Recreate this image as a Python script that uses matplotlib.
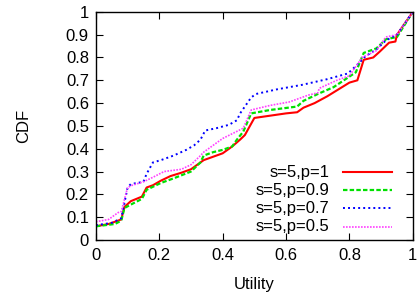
import numpy as np
import matplotlib
matplotlib.use('Agg')
import matplotlib.pyplot as plt
from matplotlib.ticker import FormatStrFormatter

plt.rcParams['font.family'] = ['Liberation Sans', 'DejaVu Sans']

# Дані (Utility, CDF)
u_p1 = [0, 0.04, 0.08, 0.09, 0.11, 0.145, 0.16, 0.18, 0.205, 0.235, 0.27, 0.30, 0.325, 0.34,
        0.40, 0.43, 0.455, 0.47, 0.50, 0.55, 0.60, 0.635, 0.655, 0.69, 0.73, 0.80, 0.825,
        0.845, 0.875, 0.895, 0.925, 0.945, 0.95, 1.0]
c_p1 = [0.06, 0.07, 0.09, 0.145, 0.17, 0.19, 0.23, 0.24, 0.26, 0.28, 0.295, 0.31, 0.335, 0.35,
        0.38, 0.41, 0.44, 0.46, 0.535, 0.545, 0.555, 0.56, 0.58, 0.60, 0.63, 0.69, 0.70,
        0.79, 0.80, 0.825, 0.865, 0.87, 0.90, 1.0]

u_p09 = [0, 0.06, 0.08, 0.09, 0.11, 0.145, 0.16, 0.205, 0.245, 0.30, 0.33, 0.34, 0.37, 0.40,
         0.43, 0.445, 0.465, 0.49, 0.55, 0.635, 0.655, 0.70, 0.75, 0.82, 0.845, 0.885, 0.915,
         0.95, 1.0]
c_p09 = [0.06, 0.07, 0.085, 0.14, 0.155, 0.18, 0.22, 0.25, 0.27, 0.30, 0.34, 0.37, 0.385, 0.395,
         0.41, 0.44, 0.475, 0.555, 0.57, 0.585, 0.61, 0.64, 0.67, 0.735, 0.82, 0.84, 0.88,
         0.89, 1.0]

u_p07 = [0, 0.05, 0.08, 0.10, 0.11, 0.15, 0.16, 0.18, 0.205, 0.245, 0.285, 0.31, 0.33, 0.345,
         0.38, 0.42, 0.445, 0.455, 0.49, 0.505, 0.57, 0.65, 0.73, 0.795, 0.83, 0.85, 0.885,
         0.915, 0.95, 1.0]
c_p07 = [0.065, 0.075, 0.095, 0.23, 0.245, 0.255, 0.29, 0.34, 0.35, 0.37, 0.395, 0.415, 0.44, 0.48,
         0.49, 0.505, 0.525, 0.555, 0.625, 0.64, 0.66, 0.68, 0.705, 0.73, 0.775, 0.805, 0.835,
         0.875, 0.90, 1.0]

u_p05 = [0, 0.04, 0.07, 0.08, 0.10, 0.115, 0.15, 0.18, 0.215, 0.27, 0.30, 0.33, 0.34, 0.40,
         0.465, 0.49, 0.55, 0.61, 0.64, 0.67, 0.70, 0.705, 0.76, 0.80, 0.82, 0.84, 0.885,
         0.915, 0.95, 1.0]
c_p05 = [0.08, 0.09, 0.12, 0.125, 0.23, 0.24, 0.255, 0.275, 0.30, 0.31, 0.33, 0.37, 0.385, 0.445,
         0.49, 0.57, 0.59, 0.605, 0.62, 0.635, 0.645, 0.665, 0.70, 0.72, 0.76, 0.80, 0.83,
         0.89, 0.90, 1.0]

labels = ['s=5,p=1', 's=5,p=0.9', 's=5,p=0.7', 's=5,p=0.5']
series = [(u_p1, c_p1), (u_p09, c_p09), (u_p07, c_p07), (u_p05, c_p05)]
styles = [
    dict(color='#ff0000', lw=1.5, ls='-'),
    dict(color='#00e000', lw=1.6, dashes=(2.0, 1.0)),
    dict(color='#0000ff', lw=1.4, dashes=(1, 1.6)),
    dict(color='#ff40ff', lw=1.2, dashes=(1, 0.8)),
]

fig = plt.figure(figsize=(4.17, 2.97), dpi=100)
ax = fig.add_axes([0.230, 0.192, 0.760, 0.768])

for (u, c), st in zip(series, styles):
    ax.plot(u, c, **st)

ax.set_xlim(0, 1)
ax.set_ylim(0, 1)
ax.set_xticks(np.arange(0, 1.01, 0.2))
ax.set_yticks(np.arange(0, 1.01, 0.1))
ax.xaxis.set_major_formatter(FormatStrFormatter('%g'))
ax.yaxis.set_major_formatter(FormatStrFormatter('%g'))
ax.tick_params(direction='in', top=True, right=True, length=5, width=0.8, labelsize=12)
ax.tick_params(axis='x', pad=6)
ax.tick_params(axis='y', pad=5)
ax.set_xlabel('Utility', fontsize=12, labelpad=10)
ax.set_ylabel('CDF', fontsize=12, labelpad=25)
for s in ax.spines.values():
    s.set_linewidth(1.0)

# Легенда в стилі gnuplot: текст праворуч вирівняний, лінія справа
leg_y = [0.298, 0.219, 0.140, 0.057]
for lab, st, yy in zip(labels, styles, leg_y):
    ax.text(0.738, yy, lab, ha='right', va='center', fontsize=12, transform=ax.transAxes)
    ax.plot([0.779, 0.934], [yy, yy], transform=ax.transAxes, **st)

fig.savefig('out.png', dpi=100)
